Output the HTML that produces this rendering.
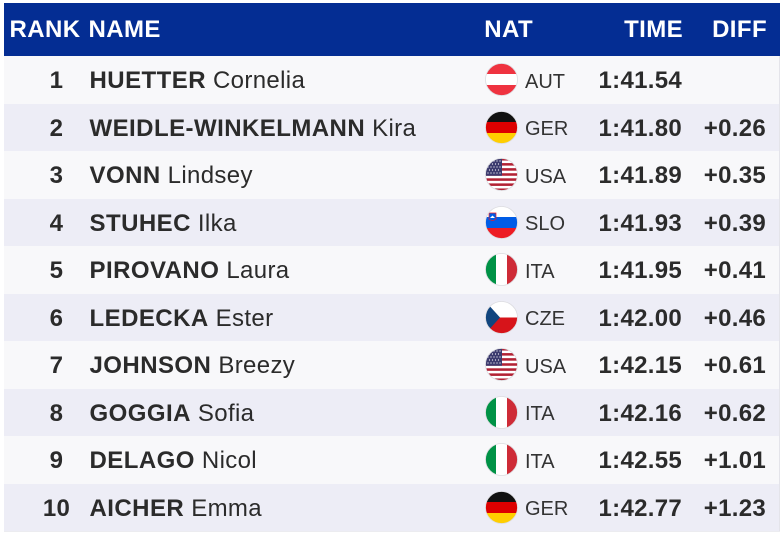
<!DOCTYPE html>
<html><head><meta charset="utf-8"><style>
html,body{margin:0;padding:0;background:#fff;width:784px;height:536px;overflow:hidden;font-family:"Liberation Sans",Arial,sans-serif;}
#t{position:absolute;left:0;top:0;width:784px;height:536px;}
.hd{position:absolute;left:4px;top:3px;width:776px;height:53px;background:#042d93;}
.h{position:absolute;top:3px;height:53px;line-height:53px;color:#fff;font-weight:bold;font-size:24px;letter-spacing:0.4px;white-space:nowrap;margin-top:-0.5px;}
.row{position:absolute;left:4px;width:775px;height:47.5px;border-right:1px solid #e4e4ea;}
.o{background:#f8f8fa;}
.e{background:#ededf6;}
.c{position:absolute;line-height:47.5px;height:47.5px;font-size:24px;color:#2b2b2b;white-space:nowrap;margin-top:1.2px;}
.rk{left:22.5px;width:60px;text-align:center;font-weight:bold;letter-spacing:0.3px;}
.nm{left:85.5px;letter-spacing:0.35px;}
.nm b{letter-spacing:0.45px;}
.nat{left:521px;font-size:20px;margin-top:2.6px;color:#333;}
.tm{right:97px;font-weight:bold;letter-spacing:0.3px;text-align:right;}
.df{right:13px;font-weight:bold;letter-spacing:0.3px;text-align:right;}
.fl{position:absolute;left:481px;top:7px;width:33px;height:33px;}
</style></head><body><div id="t">
<div class="hd"></div>
<div class="h" style="left:9.5px">RANK</div>
<div class="h" style="left:88.5px">NAME</div>
<div class="h" style="left:484.3px">NAT</div>
<div class="h" style="right:101px">TIME</div>
<div class="h" style="right:17px">DIFF</div>

<!-- row 1 -->
<div class="row o" style="top:56px">
<div class="c rk">1</div><div class="c nm"><b>HUETTER</b> Cornelia</div>
<svg class="fl" viewBox="0 0 33 33"><clipPath id="c1"><circle cx="16.5" cy="16.5" r="16"/></clipPath><g clip-path="url(#c1)"><rect width="33" height="33" fill="#fff"/><rect width="33" height="11" fill="#ef3340"/><rect y="22" width="33" height="11" fill="#ef3340"/></g><circle cx="16.5" cy="16.5" r="16" fill="none" stroke="#dcdce0" stroke-width="0.8"/></svg>
<div class="c nat">AUT</div><div class="c tm">1:41.54</div><div class="c df"></div>
</div>

<!-- row 2 -->
<div class="row e" style="top:103.5px">
<div class="c rk">2</div><div class="c nm"><b>WEIDLE-WINKELMANN</b> Kira</div>
<svg class="fl" viewBox="0 0 33 33"><clipPath id="c2"><circle cx="16.5" cy="16.5" r="16"/></clipPath><g clip-path="url(#c2)"><rect width="33" height="11" fill="#111"/><rect y="11" width="33" height="11" fill="#dd0000"/><rect y="22" width="33" height="11" fill="#ffce00"/></g><circle cx="16.5" cy="16.5" r="16" fill="none" stroke="#dcdce0" stroke-width="0.8"/></svg>
<div class="c nat">GER</div><div class="c tm">1:41.80</div><div class="c df">+0.26</div>
</div>

<!-- row 3 -->
<div class="row o" style="top:151px">
<div class="c rk">3</div><div class="c nm"><b>VONN</b> Lindsey</div>
<svg class="fl" viewBox="0 0 33 33"><clipPath id="c3"><circle cx="16.5" cy="16.5" r="16"/></clipPath><g clip-path="url(#c3)"><rect width="33" height="33" fill="#fff"/><g fill="#b22234"><rect y="0" width="33" height="2.54"/><rect y="5.08" width="33" height="2.54"/><rect y="10.15" width="33" height="2.54"/><rect y="15.23" width="33" height="2.54"/><rect y="20.3" width="33" height="2.54"/><rect y="25.38" width="33" height="2.54"/><rect y="30.46" width="33" height="2.54"/></g><rect width="17" height="17.77" fill="#3c3b6e"/><g fill="#fff"><circle cx="3" cy="3" r="0.6"/><circle cx="6" cy="3" r="0.6"/><circle cx="9" cy="3" r="0.6"/><circle cx="12" cy="3" r="0.6"/><circle cx="15" cy="3" r="0.6"/><circle cx="4.5" cy="6" r="0.6"/><circle cx="7.5" cy="6" r="0.6"/><circle cx="10.5" cy="6" r="0.6"/><circle cx="13.5" cy="6" r="0.6"/><circle cx="3" cy="9" r="0.6"/><circle cx="6" cy="9" r="0.6"/><circle cx="9" cy="9" r="0.6"/><circle cx="12" cy="9" r="0.6"/><circle cx="15" cy="9" r="0.6"/><circle cx="4.5" cy="12" r="0.6"/><circle cx="7.5" cy="12" r="0.6"/><circle cx="10.5" cy="12" r="0.6"/><circle cx="13.5" cy="12" r="0.6"/><circle cx="3" cy="15" r="0.6"/><circle cx="6" cy="15" r="0.6"/><circle cx="9" cy="15" r="0.6"/><circle cx="12" cy="15" r="0.6"/><circle cx="15" cy="15" r="0.6"/></g></g><circle cx="16.5" cy="16.5" r="16" fill="none" stroke="#dcdce0" stroke-width="0.8"/></svg>
<div class="c nat">USA</div><div class="c tm">1:41.89</div><div class="c df">+0.35</div>
</div>

<!-- row 4 -->
<div class="row e" style="top:198.5px">
<div class="c rk">4</div><div class="c nm"><b>STUHEC</b> Ilka</div>
<svg class="fl" viewBox="0 0 33 33"><clipPath id="c4"><circle cx="16.5" cy="16.5" r="16"/></clipPath><g clip-path="url(#c4)"><rect width="33" height="11" fill="#fff"/><rect y="11" width="33" height="11" fill="#005ce6"/><rect y="22" width="33" height="11" fill="#ed1c24"/><path d="M4 7 L11 7 L11 13 Q7.5 16 4 13 Z" fill="#005ce6" stroke="#ed1c24" stroke-width="0.7"/><path d="M5 12 L7.5 9.5 L10 12 Z" fill="#fff"/></g><circle cx="16.5" cy="16.5" r="16" fill="none" stroke="#dcdce0" stroke-width="0.8"/></svg>
<div class="c nat">SLO</div><div class="c tm">1:41.93</div><div class="c df">+0.39</div>
</div>

<!-- row 5 -->
<div class="row o" style="top:246px">
<div class="c rk">5</div><div class="c nm"><b>PIROVANO</b> Laura</div>
<svg class="fl" viewBox="0 0 33 33"><clipPath id="c5"><circle cx="16.5" cy="16.5" r="16"/></clipPath><g clip-path="url(#c5)"><rect width="11" height="33" fill="#009246"/><rect x="11" width="11" height="33" fill="#fff"/><rect x="22" width="11" height="33" fill="#ce2b37"/></g><circle cx="16.5" cy="16.5" r="16" fill="none" stroke="#dcdce0" stroke-width="0.8"/></svg>
<div class="c nat">ITA</div><div class="c tm">1:41.95</div><div class="c df">+0.41</div>
</div>

<!-- row 6 -->
<div class="row e" style="top:293.5px">
<div class="c rk">6</div><div class="c nm"><b>LEDECKA</b> Ester</div>
<svg class="fl" viewBox="0 0 33 33"><clipPath id="c6"><circle cx="16.5" cy="16.5" r="16"/></clipPath><g clip-path="url(#c6)"><rect width="33" height="16.5" fill="#fff"/><rect y="16.5" width="33" height="16.5" fill="#d7141a"/><path d="M0 0 L15 16.5 L0 33 Z" fill="#11457e"/></g><circle cx="16.5" cy="16.5" r="16" fill="none" stroke="#dcdce0" stroke-width="0.8"/></svg>
<div class="c nat">CZE</div><div class="c tm">1:42.00</div><div class="c df">+0.46</div>
</div>

<!-- row 7 -->
<div class="row o" style="top:341px">
<div class="c rk">7</div><div class="c nm"><b>JOHNSON</b> Breezy</div>
<svg class="fl" viewBox="0 0 33 33"><clipPath id="c7"><circle cx="16.5" cy="16.5" r="16"/></clipPath><g clip-path="url(#c7)"><rect width="33" height="33" fill="#fff"/><g fill="#b22234"><rect y="0" width="33" height="2.54"/><rect y="5.08" width="33" height="2.54"/><rect y="10.15" width="33" height="2.54"/><rect y="15.23" width="33" height="2.54"/><rect y="20.3" width="33" height="2.54"/><rect y="25.38" width="33" height="2.54"/><rect y="30.46" width="33" height="2.54"/></g><rect width="17" height="17.77" fill="#3c3b6e"/><g fill="#fff"><circle cx="3" cy="3" r="0.6"/><circle cx="6" cy="3" r="0.6"/><circle cx="9" cy="3" r="0.6"/><circle cx="12" cy="3" r="0.6"/><circle cx="15" cy="3" r="0.6"/><circle cx="4.5" cy="6" r="0.6"/><circle cx="7.5" cy="6" r="0.6"/><circle cx="10.5" cy="6" r="0.6"/><circle cx="13.5" cy="6" r="0.6"/><circle cx="3" cy="9" r="0.6"/><circle cx="6" cy="9" r="0.6"/><circle cx="9" cy="9" r="0.6"/><circle cx="12" cy="9" r="0.6"/><circle cx="15" cy="9" r="0.6"/><circle cx="4.5" cy="12" r="0.6"/><circle cx="7.5" cy="12" r="0.6"/><circle cx="10.5" cy="12" r="0.6"/><circle cx="13.5" cy="12" r="0.6"/><circle cx="3" cy="15" r="0.6"/><circle cx="6" cy="15" r="0.6"/><circle cx="9" cy="15" r="0.6"/><circle cx="12" cy="15" r="0.6"/><circle cx="15" cy="15" r="0.6"/></g></g><circle cx="16.5" cy="16.5" r="16" fill="none" stroke="#dcdce0" stroke-width="0.8"/></svg>
<div class="c nat">USA</div><div class="c tm">1:42.15</div><div class="c df">+0.61</div>
</div>

<!-- row 8 -->
<div class="row e" style="top:388.5px">
<div class="c rk">8</div><div class="c nm"><b>GOGGIA</b> Sofia</div>
<svg class="fl" viewBox="0 0 33 33"><clipPath id="c8"><circle cx="16.5" cy="16.5" r="16"/></clipPath><g clip-path="url(#c8)"><rect width="11" height="33" fill="#009246"/><rect x="11" width="11" height="33" fill="#fff"/><rect x="22" width="11" height="33" fill="#ce2b37"/></g><circle cx="16.5" cy="16.5" r="16" fill="none" stroke="#dcdce0" stroke-width="0.8"/></svg>
<div class="c nat">ITA</div><div class="c tm">1:42.16</div><div class="c df">+0.62</div>
</div>

<!-- row 9 -->
<div class="row o" style="top:436px">
<div class="c rk">9</div><div class="c nm"><b>DELAGO</b> Nicol</div>
<svg class="fl" viewBox="0 0 33 33"><clipPath id="c9"><circle cx="16.5" cy="16.5" r="16"/></clipPath><g clip-path="url(#c9)"><rect width="11" height="33" fill="#009246"/><rect x="11" width="11" height="33" fill="#fff"/><rect x="22" width="11" height="33" fill="#ce2b37"/></g><circle cx="16.5" cy="16.5" r="16" fill="none" stroke="#dcdce0" stroke-width="0.8"/></svg>
<div class="c nat">ITA</div><div class="c tm">1:42.55</div><div class="c df">+1.01</div>
</div>

<!-- row 10 -->
<div class="row e" style="top:483.5px">
<div class="c rk">10</div><div class="c nm"><b>AICHER</b> Emma</div>
<svg class="fl" viewBox="0 0 33 33"><clipPath id="c10"><circle cx="16.5" cy="16.5" r="16"/></clipPath><g clip-path="url(#c10)"><rect width="33" height="11" fill="#111"/><rect y="11" width="33" height="11" fill="#dd0000"/><rect y="22" width="33" height="11" fill="#ffce00"/></g><circle cx="16.5" cy="16.5" r="16" fill="none" stroke="#dcdce0" stroke-width="0.8"/></svg>
<div class="c nat">GER</div><div class="c tm">1:42.77</div><div class="c df">+1.23</div>
</div>
<div style="position:absolute;left:4px;top:531px;width:776px;height:1px;background:#ececf0"></div>
</div></body></html>
